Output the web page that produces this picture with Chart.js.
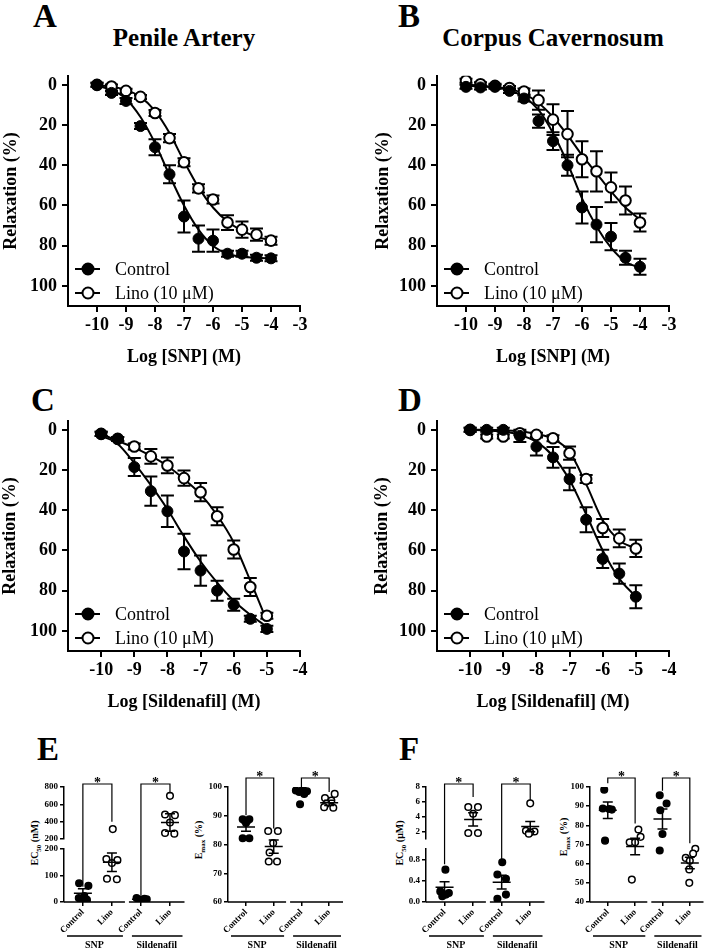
<!DOCTYPE html>
<html>
<head>
<meta charset="utf-8">
<title>Relaxation curves</title>
<script src="https://cdn.jsdelivr.net/npm/chart.js@4.4.1/dist/chart.umd.min.js"></script>
<style>
  body { margin: 0; background: #fff; }
  #figura { position: relative; width: 709px; height: 952px; overflow: hidden; font-family: 'Liberation Serif', 'Times New Roman', serif; color: #000; }
  #figura canvas { position: absolute; }
  .txt { position: absolute; font-weight: bold; white-space: nowrap; transform: translate(-50%, -50%); line-height: 1; }
  .letra { font-size: 33px; }
  .titulo { font-size: 25px; }
  .eixo { font-size: 10px; transform: translate(-50%, -50%) rotate(-90deg); }
  .eixo sub { font-size: 7px; }
</style>
</head>
<body>
<div id="figura">
  <div class="txt letra" style="left:45px;top:16px">A</div>
  <div class="txt letra" style="left:409px;top:16px">B</div>
  <div class="txt titulo" style="left:184px;top:37px">Penile Artery</div>
  <div class="txt titulo" style="left:553px;top:37px">Corpus Cavernosum</div>
  <div class="txt letra" style="left:43px;top:400px">C</div>
  <div class="txt letra" style="left:410px;top:400px">D</div>
  <div class="txt letra" style="left:48px;top:749px">E</div>
  <div class="txt letra" style="left:409px;top:749px">F</div>
  <div class="txt eixo" style="left:36px;top:843px">EC<sub>50</sub> (nM)</div>
  <div class="txt eixo" style="left:200px;top:840px">E<sub>max</sub> (%)</div>
  <div class="txt eixo" style="left:401px;top:843px">EC<sub>50</sub> (μM)</div>
  <div class="txt eixo" style="left:565px;top:837px">E<sub>max</sub> (%)</div>

  <canvas id="cA" width="340" height="310" style="left:0;top:60px"></canvas>
  <canvas id="cB" width="340" height="310" style="left:369px;top:60px"></canvas>
  <canvas id="cC" width="340" height="310" style="left:0;top:405px"></canvas>
  <canvas id="cD" width="340" height="310" style="left:369px;top:405px"></canvas>
  <canvas id="cEhi" width="190" height="182" style="left:0;top:770px"></canvas>
  <canvas id="cElo" width="190" height="182" style="left:0;top:770px"></canvas>
  <canvas id="cEmax" width="160" height="182" style="left:190px;top:770px"></canvas>
  <canvas id="cFhi" width="190" height="182" style="left:360px;top:770px"></canvas>
  <canvas id="cFlo" width="190" height="182" style="left:360px;top:770px"></canvas>
  <canvas id="cFmax" width="159" height="182" style="left:550px;top:770px"></canvas>
</div>
<script>
const serif = "'Liberation Serif', 'Times New Roman', serif";
Chart.defaults.font.family = serif;
Chart.defaults.color = '#000';

// concentration-response curves (A-D)
const logSnp = [-10, -9.5, -9, -8.5, -8, -7.5, -7, -6.5, -6, -5.5, -5, -4.5, -4];
const logSild = [-10, -9.5, -9, -8.5, -8, -7.5, -7, -6.5, -6, -5.5, -5];
const snpTicks = [-10, -9, -8, -7, -6, -5, -4, -3];
const sildTicks = [-10, -9, -8, -7, -6, -5, -4];
const relaxTicks = [0, 20, 40, 60, 80, 100];
const seriesNames = ['Control', 'Lino (10 μM)'];

// A - penile artery, SNP
const ctrlA = [0, 4, 8, 20.5, 31, 44.5, 65.5, 76.5, 77.5, 84, 84, 86, 86.3];
const ctrlSemA = [1, 1, 1.5, 1.5, 4, 4.5, 8, 6.5, 5.5, 1.5, 1.5, 1.5, 1.5];
const linoA = [0, 0.8, 3, 6, 14, 26.5, 38.5, 51.5, 57, 68.5, 72, 74.5, 77.5];
const linoSemA = [1, 1, 1, 1, 1.5, 2, 2, 2, 2, 3.7, 4, 3, 2];
const ctrlFitA = [0.5, 2.5, 7, 16, 29, 45, 60, 72, 80, 84, 85.5, 86, 86.3];
const linoFitA = [0, 1, 2.5, 6, 13, 24, 38, 51, 61, 68, 72.5, 75.5, 77.5];

// B - corpus cavernosum, SNP
const ctrlB = [1, 1.3, 1, 3, 6.8, 18, 28, 40, 61, 69.5, 75.5, 86, 90.5];
const ctrlSemB = [1, 1, 1, 1, 1.5, 3.3, 4.4, 5.2, 8, 8.8, 6.8, 3.5, 4];
const linoB = [-2, -0.3, 0.5, 1.6, 3.3, 7.6, 17.3, 24.5, 37, 43, 51, 57.5, 68.5];
const linoSemB = [1, 1, 1, 1, 1.5, 4.8, 7.6, 11.5, 9, 10, 7.4, 7, 4.5];
const ctrlFitB = [0.5, 0.8, 1.3, 2.8, 6, 12.5, 24, 39, 56.5, 70.5, 81, 88, 91];
const linoFitB = [0, 0.4, 1, 2, 4.5, 9, 16, 25, 35, 44, 53, 61, 67];

// C - penile artery, sildenafil
const ctrlC = [2, 4.5, 18.5, 30.5, 40.5, 60.5, 70, 80, 87, 94, 99];
const ctrlSemC = [1, 1, 4.5, 7.3, 7.8, 8.8, 7.5, 5, 3, 1.5, 1.5];
const linoC = [2, 4.5, 8.3, 13.2, 17.7, 24, 31, 43, 59.5, 78.2, 92.5];
const linoSemC = [1, 1, 1.5, 3.7, 3.9, 3.8, 4.5, 4.5, 4.5, 4.5, 1.5];
const ctrlFitC = [3, 7, 16.5, 27.5, 39.5, 53, 65.5, 76, 85, 92, 98];
const linoFitC = [2, 5.5, 8.8, 13, 18, 24.5, 32, 42.5, 56, 75, 95];

// D - corpus cavernosum, sildenafil
const ctrlD = [0, 0, 0, 3, 8.3, 13.7, 24.5, 44.7, 64.2, 71.5, 83];
const ctrlSemD = [1, 1, 1, 3, 4.5, 5.2, 5.6, 6.2, 4.5, 5, 5.7];
const linoD = [0, 3.3, 3.3, 1.7, 2.5, 4.2, 11.6, 24.5, 48.8, 54, 59];
const linoSemD = [1, 1, 1, 1, 1, 1.5, 3.3, 2, 4.5, 4.4, 4.3];
const ctrlFitD = [0, 0.3, 0.8, 2.5, 6, 13, 25, 42, 60, 74, 83];
const linoFitD = [0, 0, 0.2, 0.8, 2, 4.5, 11, 27, 45, 55, 59];

// scatter panels (E, F)
const dotCats = ['Control', 'Lino', 'Control', 'Lino'];
const dotGroups = ['SNP', 'Sildenafil'];
const sigMarks = ['*', '*'];

// E - EC50 (nM), penile artery
const eEcVals = [[71, 61, 22, 15, 8, 5], [314, 162, 158, 147, 88, 86], [15, 12, 10, 8, 6], [698, 482, 475, 390, 270, 262]];
const eEcJit = [[-0.13, 0.19, 0.05, -0.14, 0.14, -0.05], [0.03, -0.19, 0.19, 0, -0.17, 0.17], [-0.15, 0.12, 0.2, -0.05, 0.05], [0, -0.17, 0.17, 0, -0.17, 0.15]];
const eEcMean = [33, 150, 10, 390];
const eEcSem = [17, 35, 2, 100];
const eEcLegs = [[58, 400], [20, 725]];
const eEcTicksHi = [200, 400, 600, 800];
const eEcTicksLo = [0, 50, 100, 150, 200];

// E - Emax (%)
const eMaxVals = [[88.8, 88.8, 88.2, 87.5, 82.2, 82.2], [84.7, 84.7, 80.5, 77.2, 74.1, 74.1], [99.2, 98.8, 98.5, 98.3, 97.6, 94], [97.6, 96.2, 95.3, 94.2, 93, 92.8]];
const eMaxJit = [[-0.12, 0.12, 0.02, 0, -0.12, 0.12], [-0.2, 0.15, -0.02, -0.15, -0.18, 0.12], [0.05, -0.2, 0.2, -0.08, 0.1, -0.05], [0.2, -0.15, 0.08, -0.1, -0.18, 0.15]];
const eMaxMean = [86.1, 79.3, 98.4, 94.5];
const eMaxSem = [1.5, 2.3, 0.9, 0.9];
const eMaxLegs = [[90.2, 85.6], [100, 98.3]];
const eMaxTicks = [60, 70, 80, 90, 100];

// F - EC50 (uM), corpus cavernosum
const fEcVals = [[0.61, 0.2, 0.17, 0.14, 0.11], [5.3, 5.3, 4.4, 1.8, 1.8], [0.75, 0.52, 0.44, 0.14, 0.06], [5.8, 2.1, 2.0, 1.9, 1.7]];
const fEcJit = [[0.03, -0.15, 0.15, 0.05, -0.08], [-0.17, 0.17, 0, -0.17, 0.17], [0.02, -0.15, 0.15, 0.15, -0.15], [0, -0.15, 0.15, 0, -0.05]];
const fEcMean = [0.28, 3.64, 0.375, 2.67];
const fEcSem = [0.1, 0.9, 0.13, 0.7];
const fEcLegs = [[0.71, 6.67], [0.81, 6.2]];
const fEcTicksHi = [2, 4, 6, 8];
const fEcTicksLo = [0, 0.2, 0.4, 0.6, 0.8, 1.0];

// F - Emax (%)
const fMaxVals = [[98.6, 88.8, 88.5, 88.2, 72], [77.8, 74, 71.2, 71.2, 51.7], [95.7, 91.4, 87.9, 75.5, 66.9], [67.8, 65.3, 63, 61.5, 57, 50]];
const fMaxJit = [[-0.13, -0.18, 0.05, 0.15, -0.1], [0.12, 0.2, -0.2, 0, -0.12], [-0.1, 0.15, -0.08, 0, -0.1], [0.2, 0.12, -0.15, 0, -0.02, -0.02]];
const fMaxMean = [87.9, 69, 83.3, 60.3];
const fMaxSem = [4.3, 4.3, 5.2, 3];
const fMaxLegs = [[102, 81], [98, 70.7]];
const fMaxTicks = [40, 50, 60, 70, 80, 90, 100];

// error bars under the markers
const errorBars = {
  id: 'errorBars',
  beforeDatasetsDraw(chart) {
    const {ctx, scales: {x, y}} = chart;
    ctx.save();
    ctx.strokeStyle = '#000';
    ctx.lineWidth = 2;
    chart.data.datasets.forEach(ds => {
      if (!ds.sem) return;
      ds.data.forEach((p, i) => {
        const px = x.getPixelForValue(p.x);
        const lo = y.getPixelForValue(p.y - ds.sem[i]);
        const hi = y.getPixelForValue(p.y + ds.sem[i]);
        ctx.beginPath();
        ctx.moveTo(px, lo); ctx.lineTo(px, hi);
        ctx.moveTo(px - 6.5, lo); ctx.lineTo(px + 6.5, lo);
        ctx.moveTo(px - 6.5, hi); ctx.lineTo(px + 6.5, hi);
        ctx.stroke();
      });
    });
    ctx.restore();
  }
};

// legend inside the plot, bottom left
const curveLegend = {
  id: 'curveLegend',
  afterDraw(chart) {
    const {ctx, chartArea: a} = chart;
    ctx.save();
    ctx.lineWidth = 2;
    ctx.strokeStyle = '#000';
    ctx.font = '18px ' + serif;
    ctx.textBaseline = 'middle';
    seriesNames.forEach((name, i) => {
      const y = a.bottom - 37 + i * 24;
      ctx.beginPath(); ctx.moveTo(a.left + 7, y); ctx.lineTo(a.left + 32, y); ctx.stroke();
      ctx.beginPath(); ctx.arc(a.left + 20, y, 5.5, 0, Math.PI * 2);
      ctx.fillStyle = i === 0 ? '#000' : '#fff';
      ctx.fill(); ctx.stroke();
      ctx.fillStyle = '#000';
      ctx.fillText(name, a.left + 47, y + 1);
    });
    ctx.restore();
  }
};

function curveChart(id, o) {
  const pts = ys => o.logs.map((x, i) => ({x: x, y: ys[i]}));
  const fit = ys => ({data: pts(ys), showLine: true, pointRadius: 0, borderColor: '#000', borderWidth: 2, cubicInterpolationMode: 'monotone', order: 3});
  return new Chart(document.getElementById(id), {
    type: 'scatter',
    data: {
      datasets: [
        fit(o.ctrlFit),
        fit(o.linoFit),
        {label: seriesNames[0], data: pts(o.ctrl), sem: o.ctrlSem, pointRadius: 5.5, pointBackgroundColor: '#000', pointBorderColor: '#000', pointBorderWidth: 1, order: 0},
        {label: seriesNames[1], data: pts(o.lino), sem: o.linoSem, pointRadius: 5.3, pointBackgroundColor: '#fff', pointBorderColor: '#000', pointBorderWidth: 2, order: 1}
      ]
    },
    options: {
      responsive: false,
      animation: false,
      layout: {padding: {left: 0, top: 15, right: 40, bottom: 0}},
      plugins: {legend: {display: false}, tooltip: {enabled: false}},
      scales: {
        x: {
          type: 'linear', min: -11, max: o.xTicks[o.xTicks.length - 1],
          afterBuildTicks: s => { s.ticks = o.xTicks.map(v => ({value: v})); },
          afterFit: s => { s.height = 64; },
          ticks: {callback: v => String(v), font: {size: 18, weight: 'bold'}, padding: 3, maxRotation: 0, autoSkip: false},
          grid: {drawOnChartArea: false, tickLength: 6, lineWidth: 2, color: '#000'},
          border: {width: 2, color: '#000'},
          title: {display: true, text: o.xTitle, font: {size: 18, weight: 'bold'}, padding: {top: 0, bottom: 2}}
        },
        y: {
          min: -4.5, max: 110, reverse: true,
          afterBuildTicks: s => { s.ticks = relaxTicks.map(v => ({value: v})); },
          afterFit: s => { s.width = 68; },
          ticks: {font: {size: 18, weight: 'bold'}, padding: 5},
          grid: {drawOnChartArea: false, tickLength: 6, lineWidth: 2, color: '#000'},
          border: {width: 2, color: '#000'},
          title: {display: true, text: 'Relaxation (%)', font: {size: 18, weight: 'bold'}, padding: {top: o.yPad, bottom: 0}}
        }
      }
    },
    plugins: [errorBars, curveLegend]
  });
}

// axis segments, group labels and significance brackets
function dotExtras(o) {
  return {
    id: 'dotExtras',
    afterDraw(chart) {
      const {ctx, chartArea: a, scales: {x, y}} = chart;
      const up = o.upper;
      const py = v => (up && v > o.max) ? up.scales.y.getPixelForValue(v) : y.getPixelForValue(v);
      const mid = x.getPixelForValue(1.5);
      const segs = [[a.left, mid - 1.5], [mid + 2.5, a.right]];
      ctx.save();
      ctx.strokeStyle = '#000';
      ctx.fillStyle = '#000';
      ctx.lineWidth = 1.5;
      ctx.textAlign = 'center';
      ctx.textBaseline = 'middle';
      ctx.font = 'bold 10px ' + serif;
      segs.forEach((s, g) => {
        ctx.beginPath();
        ctx.moveTo(s[0], a.bottom); ctx.lineTo(s[1], a.bottom);
        ctx.moveTo(s[0] + 3, a.bottom + 34); ctx.lineTo(s[1] - 2, a.bottom + 34);
        ctx.stroke();
        ctx.fillText(dotGroups[g], (s[0] + s[1]) / 2, a.bottom + 43);
      });
      const top = (up ? up.chartArea.top : a.top) - o.gap;
      ctx.lineWidth = 1.2;
      ctx.font = 'bold 14px ' + serif;
      ctx.textBaseline = 'alphabetic';
      o.legs.forEach((leg, g) => {
        const x1 = x.getPixelForValue(2 * g), x2 = x.getPixelForValue(2 * g + 1);
        ctx.beginPath();
        ctx.moveTo(x1, py(leg[0])); ctx.lineTo(x1, top); ctx.lineTo(x2, top); ctx.lineTo(x2, py(leg[1]));
        ctx.stroke();
        ctx.fillText(sigMarks[g], (x1 + x2) / 2, top + 3);
      });
      ctx.restore();
    }
  };
}

function dotChart(id, o) {
  const meanBars = {
    id: 'meanBars',
    afterDatasetsDraw(chart) {
      const {ctx, scales: {x, y}} = chart;
      ctx.save();
      ctx.strokeStyle = '#000';
      ctx.lineWidth = 1.5;
      o.mean.forEach((m, i) => {
        if (m < o.min || m > o.max) return;
        const px = x.getPixelForValue(i), pm = y.getPixelForValue(m);
        const lo = y.getPixelForValue(m - o.sem[i]), hi = y.getPixelForValue(m + o.sem[i]);
        ctx.beginPath();
        ctx.moveTo(px - 9, pm); ctx.lineTo(px + 9, pm);
        ctx.moveTo(px, lo); ctx.lineTo(px, hi);
        ctx.moveTo(px - 5, lo); ctx.lineTo(px + 5, lo);
        ctx.moveTo(px - 5, hi); ctx.lineTo(px + 5, hi);
        ctx.stroke();
      });
      ctx.restore();
    }
  };
  const plugins = [meanBars];
  if (o.showX) plugins.push(dotExtras(o));
  return new Chart(document.getElementById(id), {
    type: 'scatter',
    data: {
      datasets: o.vals.map((vs, i) => ({
        label: dotCats[i],
        data: vs.map((v, j) => ({x: i + o.jit[i][j], y: v})).filter(p => p.y >= o.min && p.y <= o.max),
        pointRadius: 3.3,
        pointBorderWidth: 1.5,
        pointBorderColor: '#000',
        pointBackgroundColor: i % 2 ? '#fff' : '#000'
      }))
    },
    options: {
      responsive: false,
      animation: false,
      layout: {padding: o.pad},
      plugins: {legend: {display: false}, tooltip: {enabled: false}},
      scales: {
        x: {
          type: 'linear', min: -0.65, max: 3.5, display: o.showX,
          afterBuildTicks: s => { s.ticks = [0, 1, 2, 3].map(v => ({value: v})); },
          afterFit: s => { s.height = o.showX ? 50 : 0; },
          ticks: {callback: v => dotCats[v], minRotation: 45, maxRotation: 45, autoSkip: false, font: {size: 9, weight: 'bold'}, padding: 1},
          grid: {drawOnChartArea: false, tickLength: 4, lineWidth: 1.5, color: '#000'},
          border: {display: false}
        },
        y: {
          min: o.min, max: o.max,
          afterBuildTicks: s => { s.ticks = o.ticks.map(v => ({value: v})); },
          afterFit: s => { s.width = o.yWidth; },
          ticks: {callback: o.fmt || (v => String(v)), font: {size: 9, weight: 'bold'}, padding: 2},
          grid: {drawOnChartArea: false, tickLength: 4, lineWidth: 1.5, color: '#000'},
          border: {width: 1.5, color: '#000'}
        }
      }
    },
    plugins: plugins
  });
}

curveChart('cA', {logs: logSnp, xTicks: snpTicks, xTitle: 'Log [SNP] (M)', yPad: 1,
  ctrl: ctrlA, ctrlSem: ctrlSemA, lino: linoA, linoSem: linoSemA, ctrlFit: ctrlFitA, linoFit: linoFitA});
curveChart('cB', {logs: logSnp, xTicks: snpTicks, xTitle: 'Log [SNP] (M)', yPad: 4,
  ctrl: ctrlB, ctrlSem: ctrlSemB, lino: linoB, linoSem: linoSemB, ctrlFit: ctrlFitB, linoFit: linoFitB});
curveChart('cC', {logs: logSild, xTicks: sildTicks, xTitle: 'Log [Sildenafil] (M)', yPad: 0,
  ctrl: ctrlC, ctrlSem: ctrlSemC, lino: linoC, linoSem: linoSemC, ctrlFit: ctrlFitC, linoFit: linoFitC});
curveChart('cD', {logs: logSild, xTicks: sildTicks, xTitle: 'Log [Sildenafil] (M)', yPad: 3,
  ctrl: ctrlD, ctrlSem: ctrlSemD, lino: linoD, linoSem: linoSemD, ctrlFit: ctrlFitD, linoFit: linoFitD});

// broken EC50 axes: two charts stacked on the same spot
const eHi = dotChart('cEhi', {vals: eEcVals, jit: eEcJit, mean: eEcMean, sem: eEcSem, min: 200, max: 800,
  ticks: eEcTicksHi, showX: false, yWidth: 64, pad: {left: 0, top: 17, right: 5, bottom: 113}});
dotChart('cElo', {vals: eEcVals, jit: eEcJit, mean: eEcMean, sem: eEcSem, min: 0, max: 200,
  ticks: eEcTicksLo, showX: true, yWidth: 64, pad: {left: 0, top: 79, right: 5, bottom: 0},
  upper: eHi, legs: eEcLegs, gap: 3});
dotChart('cEmax', {vals: eMaxVals, jit: eMaxJit, mean: eMaxMean, sem: eMaxSem, min: 60, max: 100,
  ticks: eMaxTicks, showX: true, yWidth: 38, pad: {left: 0, top: 17, right: 7, bottom: 0},
  legs: eMaxLegs, gap: 9});

const fHi = dotChart('cFhi', {vals: fEcVals, jit: fEcJit, mean: fEcMean, sem: fEcSem, min: 1, max: 8,
  ticks: fEcTicksHi, showX: false, yWidth: 66, pad: {left: 0, top: 17, right: 2, bottom: 113}});
dotChart('cFlo', {vals: fEcVals, jit: fEcJit, mean: fEcMean, sem: fEcSem, min: 0, max: 1,
  ticks: fEcTicksLo, fmt: v => v.toFixed(1), showX: true, yWidth: 66, pad: {left: 0, top: 79, right: 2, bottom: 0},
  upper: fHi, legs: fEcLegs, gap: 3});
dotChart('cFmax', {vals: fMaxVals, jit: fMaxJit, mean: fMaxMean, sem: fMaxSem, min: 40, max: 100,
  ticks: fMaxTicks, showX: true, yWidth: 40, pad: {left: 0, top: 17, right: 2, bottom: 0},
  legs: fMaxLegs, gap: 9});
</script>
</body>
</html>
